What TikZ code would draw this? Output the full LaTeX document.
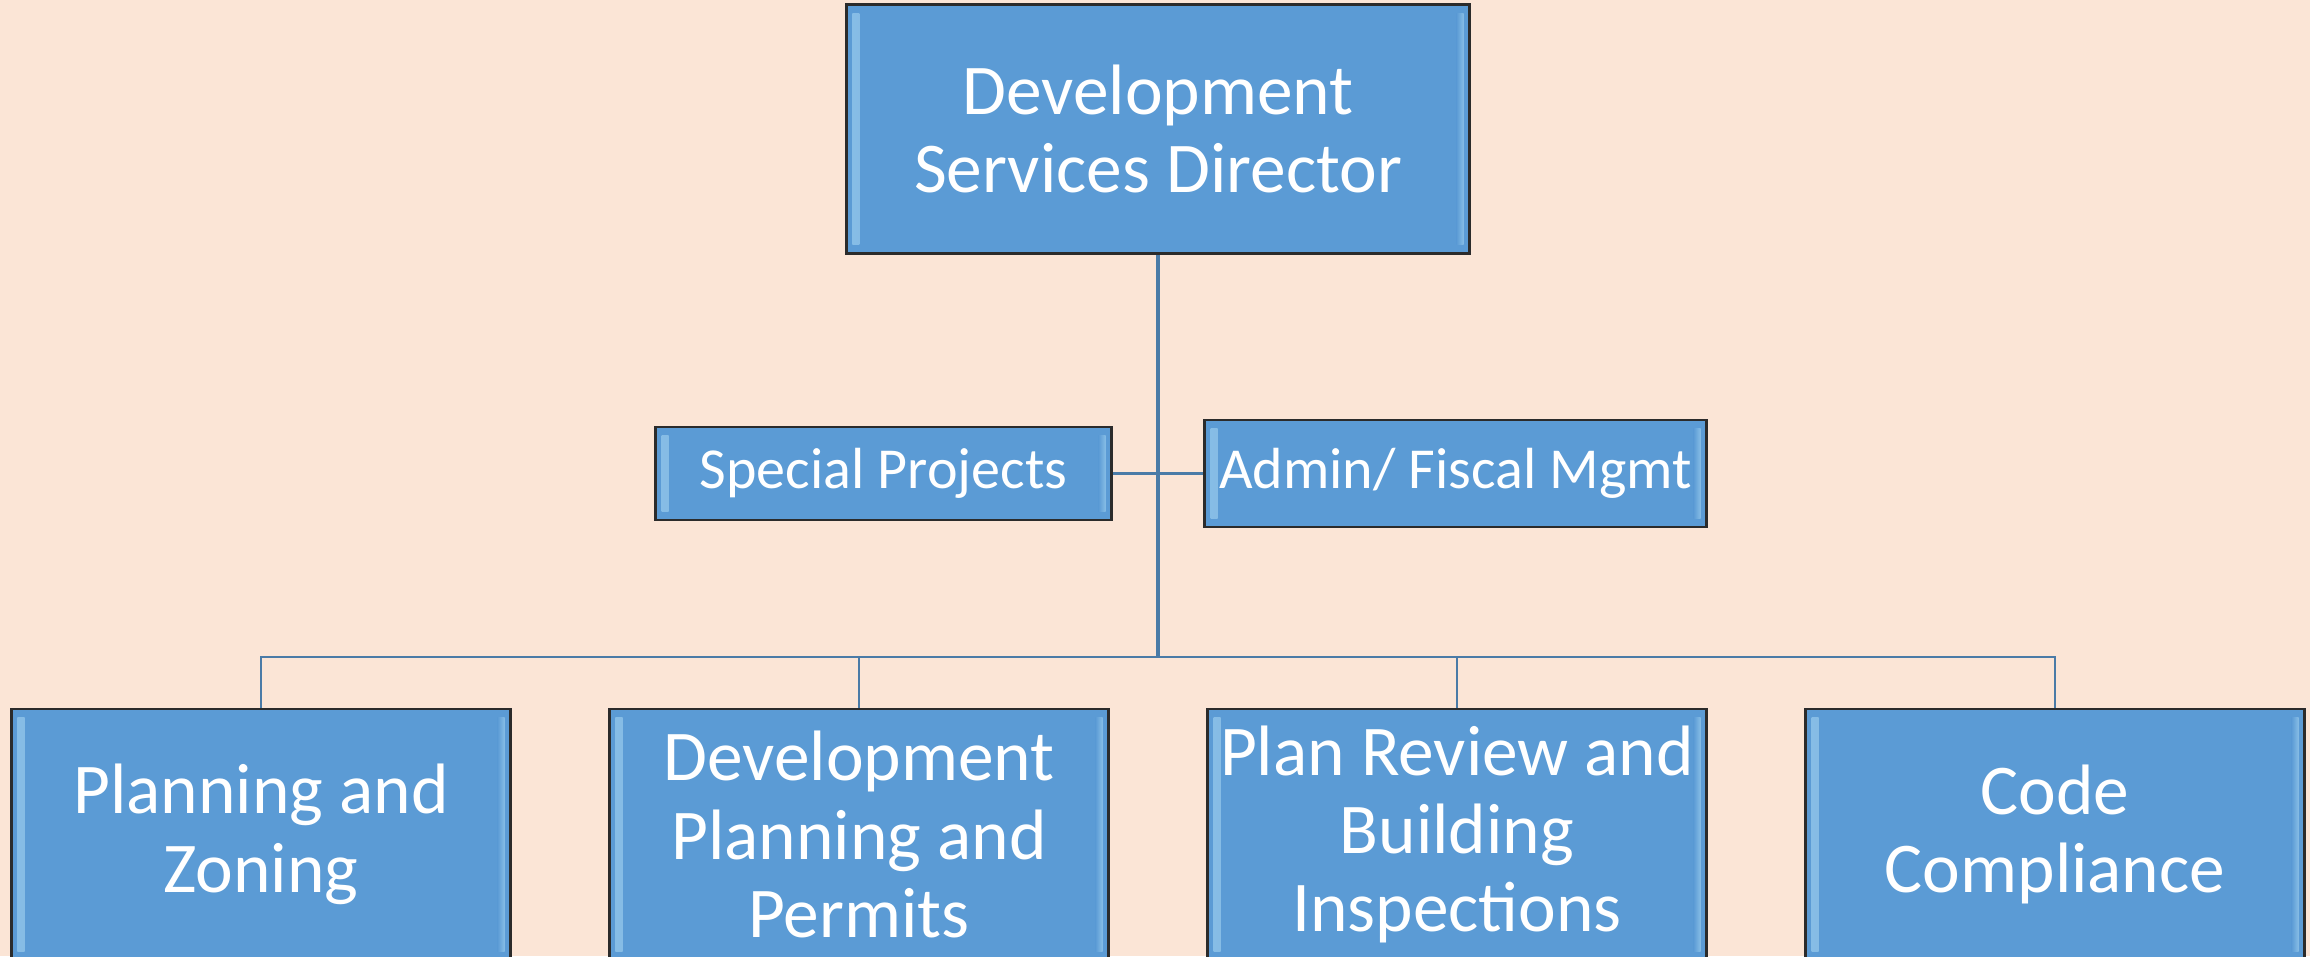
\documentclass[tikz,border=0pt]{standalone}
\usepackage{fontspec}
\setmainfont{Carlito}
\usetikzlibrary{positioning}

\definecolor{bgpeach}{HTML}{FBE5D6}
\definecolor{boxblue}{HTML}{5B9BD5}
\definecolor{bevhi}{HTML}{C8F0FF}
\definecolor{linkblue}{HTML}{4A7BA7}
\definecolor{rimgray}{HTML}{2B2B2B}

\tikzset{
  bevel/.style={path picture={
      \fill[left color=boxblue!60!bevhi, right color=boxblue]
        ([shift={(1.6pt,-2.5pt)}]path picture bounding box.north west)
        rectangle ([shift={(3.6pt,2.5pt)}]path picture bounding box.south west);
      \fill[left color=boxblue, right color=boxblue!60!bevhi]
        ([shift={(-3.6pt,-2.5pt)}]path picture bounding box.north east)
        rectangle ([shift={(-1.6pt,2.5pt)}]path picture bounding box.south east);
    }},
  unitbox/.style={draw=rimgray, line width=0.8pt, fill=boxblue, text=white,
    align=center, inner sep=0pt, bevel},
  bigunit/.style={unitbox, font=\fontsize{20.3}{22.3}\selectfont},
  smallunit/.style={unitbox, font=\fontsize{16.5}{18}\selectfont},
  trunk/.style={draw=linkblue, line width=0.9pt},
  link/.style={draw=linkblue, line width=0.6pt}
}

\begin{document}
\begin{tikzpicture}[x=0.01cm, y=-0.01cm]
  \fill[bgpeach] (0,0) rectangle (2310,956);
  \useasboundingbox (0,0) rectangle (2310,956);
  \clip (0,0) rectangle (2310,956);

  % director
  \node[bigunit, minimum width=6.22cm, minimum height=2.49cm] (dir) at (1158,129)
    {Development\\Services Director};

  % staff units
  \node[smallunit, minimum width=4.55cm, minimum height=0.93cm] (spec) at (883.5,473.5)
    {Special Projects};
  \node[smallunit, minimum width=5.01cm, minimum height=1.07cm] (admin) at (1455.5,473.5)
    {Admin/ Fiscal Mgmt};

  % divisions
  \node[bigunit, minimum width=4.98cm, minimum height=2.51cm] (plz) at (261,834.5)
    {Planning and\\Zoning};
  \node[bigunit, minimum width=4.98cm, minimum height=2.51cm] (dpp) at (859,834.5)
    {Development\\Planning and\\Permits};
  \node[bigunit, minimum width=4.98cm, minimum height=2.51cm] (prb) at (1457,834.5)
    {Plan Review and\\Building\\Inspections};
  \node[bigunit, minimum width=4.98cm, minimum height=2.51cm] (cc) at (2055,834.5)
    {Code\\Compliance};

  \coordinate (bus) at (1158,657);

  \draw[link] (spec.east) -- (admin.west);
  \foreach \u in {plz,dpp,prb,cc}
    \draw[link] (\u.north) |- (bus);
  \draw[trunk] (dir.south) -- (bus);
\end{tikzpicture}
\end{document}
